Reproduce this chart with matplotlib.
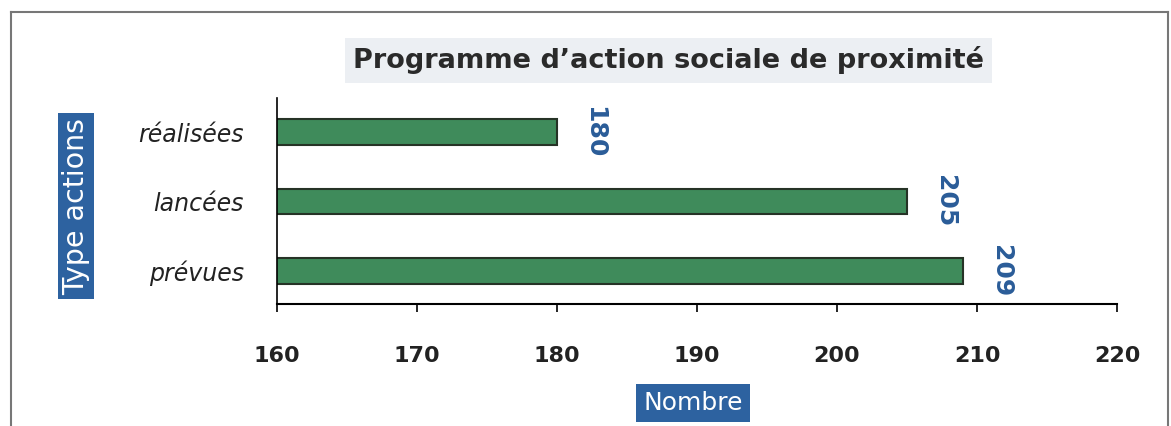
import matplotlib.pyplot as plt
from matplotlib.lines import Line2D

# data
categories = ["prévues", "lancées", "réalisées"]
values = [209, 205, 180]
x_ticks = [160, 170, 180, 190, 200, 210, 220]

title = "Programme d\u2019action sociale de proximité"
bar_color = "#3f8b5b"
label_blue = "#2a5c98"
box_blue = "#2d62a0"


def main():
    plt.rcParams["font.family"] = "DejaVu Sans"
    fig = plt.figure(figsize=(11.71, 4.26), dpi=100)
    ax = fig.add_axes([0.2366, 0.2864, 0.7173, 0.4836])

    y = list(range(len(categories)))
    ax.barh(y, values, height=0.37, color=bar_color, edgecolor="#263326", linewidth=1.5)

    ax.set_xlim(160, 220)
    ax.set_ylim(-0.475, 2.49)
    ax.set_xticks(x_ticks)
    ax.set_xticklabels([str(t) for t in x_ticks], fontsize=16, fontweight="bold",
                       color="#222222")
    ax.set_yticks(y)
    ax.set_yticklabels(categories, fontsize=17, style="italic", color="#222222")
    ax.tick_params(axis="x", length=6, width=1.2, pad=24, direction="out")
    ax.tick_params(axis="y", length=0, pad=24)

    for s in ["top", "right"]:
        ax.spines[s].set_visible(False)
    ax.spines["left"].set_linewidth(1.2)
    ax.spines["bottom"].set_linewidth(1.5)

    # value labels, rotated
    for yi, v in zip(y, values):
        ax.annotate(str(v), xy=(v, yi), xytext=(27, 0), textcoords="offset points",
                    rotation=-90, ha="center", va="center", fontsize=18,
                    fontweight="bold", color=label_blue)

    # title in a light grey box
    fig.text(0.571, 0.858, title, ha="center", va="center", fontsize=19.5,
             fontweight="bold", color="#2a2a2a",
             bbox=dict(boxstyle="square,pad=0.3", facecolor="#eceff3", edgecolor="none"))

    # axis titles in blue boxes
    fig.text(0.065, 0.516, "Type actions", rotation=90, ha="center", va="center",
             fontsize=20.5, color="white",
             bbox=dict(boxstyle="square,pad=0.15", facecolor=box_blue, edgecolor="none"))
    fig.text(0.592, 0.054, "Nombre", ha="center", va="center",
             fontsize=18, color="white",
             bbox=dict(boxstyle="square,pad=0.28", facecolor=box_blue, edgecolor="none"))

    # outer frame
    fx0, fx1, fy1 = 0.0094, 0.9974, 0.972
    for xs, ys in [([fx0, fx0], [0, fy1]), ([fx0, fx1], [fy1, fy1]), ([fx1, fx1], [0, fy1])]:
        fig.add_artist(Line2D(xs, ys, color="#777777", linewidth=1.5, transform=fig.transFigure))

    fig.savefig("out.png", dpi=100)


if __name__ == "__main__":
    main()
